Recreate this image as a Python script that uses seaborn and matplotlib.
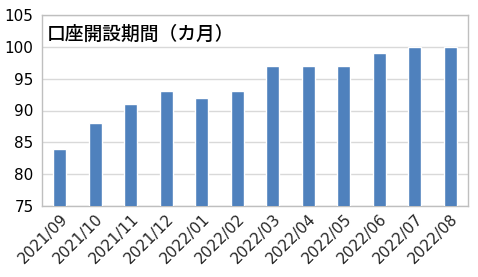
import matplotlib
matplotlib.use("Agg")
import matplotlib.pyplot as plt
import seaborn as sns
import pandas as pd
import numpy as np

months = ["2021/09", "2021/10", "2021/11", "2021/12", "2022/01", "2022/02",
          "2022/03", "2022/04", "2022/05", "2022/06", "2022/07", "2022/08"]
values = [84, 88, 91, 93, 92, 93, 97, 97, 97, 99, 100, 100]
title = "口座開設期間（カ月）"
yticks = [75, 80, 85, 90, 95, 100, 105]

sns.set_theme(style="white")
plt.rcParams['font.family'] = ['DejaVu Sans', 'Noto Sans CJK JP']

df = pd.DataFrame({"month": months, "value": values})
fig = plt.figure(figsize=(4.78, 2.77), dpi=100)
ax = fig.add_axes([42/478, 1-206/277, 426/478, 191/277])
sns.barplot(data=df, x="month", y="value", color="#4F81BD", width=0.37,
            saturation=1, ax=ax, zorder=3)
ax.set_ylim(75, 105)
ax.set_xlim(-0.5, len(months)-0.5)
ax.set_yticks(yticks)
ax.yaxis.grid(True, color="#D9D9D9", linewidth=1, zorder=0)
ax.set_axisbelow(True)
for s in ax.spines.values():
    s.set_color("#BFBFBF")
    s.set_linewidth(1)
ax.set_xlabel("")
ax.set_ylabel("")
ax.tick_params(axis="y", length=0, labelsize=11, pad=6, colors="black")
ax.tick_params(axis="x", which="major", length=0, labelsize=11, pad=4)
ax.set_xticks(np.arange(-0.5, len(months)), minor=True)
ax.tick_params(axis="x", which="minor", length=4, color="#BFBFBF", width=1)
plt.setp(ax.get_xticklabels(), rotation=45, ha="right", rotation_mode="anchor")
ax.text(0.012, 0.9, title, transform=ax.transAxes, fontsize=13.5,
        family=['Noto Sans CJK JP'], fontweight="medium", va="center", ha="left", color="black")
fig.savefig("out.png", dpi=100)
